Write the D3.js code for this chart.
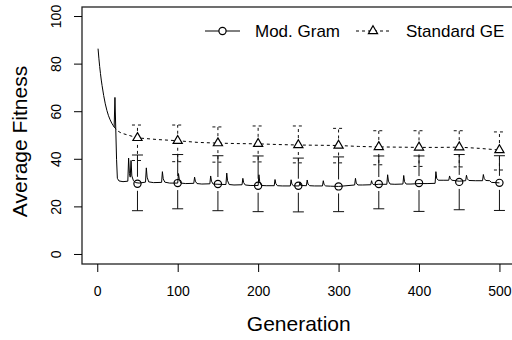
<!DOCTYPE html>
<html>
<head>
<meta charset="utf-8">
<script src="https://cdn.jsdelivr.net/npm/d3@7"></script>
<style>
  html, body { margin: 0; padding: 0; background: #fff; }
  svg { display: block; font-family: "Liberation Sans", Arial, Helvetica, sans-serif; }
</style>
</head>
<body>
<div id="chart"></div>
<script>
// values
const seriesNames = ["Mod. Gram", "Standard GE"];
const xTicks = [0, 100, 200, 300, 400, 500];
const yTicks = [0, 20, 40, 60, 80, 100];

// generations where markers + error bars sit
const markerGens = [50, 100, 150, 200, 250, 300, 350, 400, 450, 500];
const modGramMean = [29.7, 30.0, 29.6, 28.9, 28.9, 28.6, 29.6, 30.0, 30.5, 30.1];
const modGramUpper = [41.8, 42.0, 41.5, 41.4, 40.5, 41.0, 41.4, 41.4, 42.0, 41.5];
const modGramLower = [18.4, 19.2, 18.4, 18.0, 17.9, 18.0, 19.2, 18.1, 18.8, 18.5];
const standardMean = [49.0, 47.8, 46.8, 46.5, 46.0, 45.8, 45.2, 45.0, 45.1, 43.9];
const standardUpper = [54.4, 54.4, 53.6, 54.0, 54.0, 53.0, 52.0, 52.0, 52.0, 51.5];
const standardLower = [39.5, 39.0, 38.8, 38.9, 38.5, 38.5, 37.7, 37.0, 36.8, 35.5];

// per-generation traces (vertices of the drawn polylines)
const modGramTrace = [
  [1, 86.5], [2, 82.5], [3, 79], [4, 76], [5, 73.3], [6, 71], [8, 66.8], [10, 63.3],
  [12, 60.5], [14, 58.3], [16, 56.6], [18, 55.2], [20, 54.1], [21, 53.6],
  [22, 66], [24, 40], [25, 32], [27, 30.9], [32, 30.6], [38, 30.8],
  [39, 40.5], [40, 34], [41, 32.5], [42, 39.5], [43, 33], [45, 31], [48, 30.2], [52, 30], [60, 30.4],
  [61, 36.4], [62, 32.5], [64, 30.5], [70, 30.2], [80, 30.3],
  [81, 34.8], [82, 31.8], [84, 30.4], [90, 30], [100, 30],
  [101, 34], [102, 31.5], [104, 30], [110, 29.8], [120, 29.9],
  [121, 32.5], [122, 30.8], [124, 29.8], [130, 29.6], [140, 29.7],
  [141, 33], [142, 30.8], [144, 29.6], [150, 29.5], [160, 29.4],
  [161, 34.2], [162, 31], [164, 29.4], [170, 29.2], [180, 29.3],
  [181, 32], [182, 30.2], [184, 29.2], [190, 29], [200, 29],
  [201, 33.5], [202, 30.5], [204, 29], [210, 28.9], [220, 28.9],
  [221, 31.5], [222, 29.8], [224, 28.9], [230, 28.8], [240, 28.8],
  [241, 31.4], [242, 29.6], [244, 28.8], [251, 28.8], [252, 30.5], [253, 29], [260, 28.9],
  [261, 31.3], [262, 29.6], [264, 28.9], [270, 28.8], [280, 28.8],
  [281, 31], [282, 29.4], [284, 28.8], [290, 28.7], [300, 28.6], [320, 29.2],
  [321, 32], [322, 30], [324, 29.2], [330, 29.2], [340, 29.3],
  [341, 31], [342, 29.8], [344, 29.3], [350, 29.5], [360, 29.5],
  [361, 33.5], [362, 30.8], [364, 29.6], [370, 29.5], [380, 29.6],
  [381, 33.2], [382, 30.6], [384, 29.6], [390, 29.6], [400, 29.8], [410, 29.8], [420, 29.9],
  [421, 34.8], [422, 32], [424, 31.2], [430, 31.2], [437, 31.2],
  [438, 33], [439, 31.8], [441, 31.2], [450, 30.8], [458, 31],
  [459, 33.3], [460, 31.8], [462, 31.1], [470, 31], [479, 31],
  [480, 33.6], [481, 32], [483, 31.1], [488, 31], [490, 30.3], [500, 30.1]
];
const standardTrace = [
  [21, 53.6], [25, 52], [30, 51], [40, 50], [50, 49], [75, 48.3], [100, 47.8],
  [125, 47.1], [150, 46.8], [175, 46.6], [200, 46.5], [225, 46.2], [250, 46],
  [275, 45.9], [300, 45.8], [325, 45.4], [350, 45.2], [375, 45.1], [400, 45],
  [425, 45], [450, 45.1], [475, 44.6], [500, 43.9]
];

const W = 512, H = 340;
const box = { left: 82, right: 515.5, top: 7, bottom: 264 };

const svg = d3.select("#chart").append("svg")
  .attr("width", W).attr("height", H);

// R style: 4% padding around data range
const x = d3.scaleLinear().domain([1 - 19.96, 500 + 19.96]).range([box.left, box.right]);
const y = d3.scaleLinear().domain([-4, 104]).range([box.bottom, box.top]);

// frame
svg.append("rect")
  .attr("x", box.left).attr("y", box.top)
  .attr("width", box.right - box.left).attr("height", box.bottom - box.top)
  .attr("fill", "none").attr("stroke", "#222").attr("stroke-width", 1.3);

// axes
const xAxis = svg.append("g")
  .attr("transform", `translate(0,${box.bottom})`)
  .call(d3.axisBottom(x).tickValues(xTicks).tickSize(8).tickPadding(14));
xAxis.select(".domain").remove();
xAxis.selectAll("text").attr("font-size", 14).attr("fill", "#000")
  .attr("font-family", "Liberation Sans, Arial, sans-serif");

const yAxis = svg.append("g")
  .attr("transform", `translate(${box.left},0)`)
  .call(d3.axisLeft(y).tickValues(yTicks).tickSize(8));
yAxis.select(".domain").remove();
yAxis.selectAll("text")
  .attr("font-size", 14).attr("fill", "#000")
  .attr("font-family", "Liberation Sans, Arial, sans-serif")
  .attr("x", null).attr("dy", null)
  .attr("text-anchor", "middle")
  .attr("transform", d => `translate(-21,${y(d)}) rotate(-90)`)
  .attr("y", 0);
yAxis.selectAll(".tick").attr("transform", null);
yAxis.selectAll(".tick line").attr("y1", d => y(d)).attr("y2", d => y(d));

// axis titles
svg.append("text")
  .attr("x", (box.left + box.right) / 2).attr("y", 331)
  .attr("text-anchor", "middle").attr("font-size", 21)
  .text("Generation");
svg.append("text")
  .attr("transform", `translate(27,${(box.top + box.bottom) / 2 + 6}) rotate(-90)`)
  .attr("text-anchor", "middle").attr("font-size", 21)
  .text("Average Fitness");

// traces
const line = d3.line().x(d => x(d[0])).y(d => y(d[1]));
svg.append("path").datum(standardTrace)
  .attr("d", line).attr("fill", "none").attr("stroke", "#000")
  .attr("stroke-width", 1).attr("stroke-dasharray", "3,3");
svg.append("path").datum(modGramTrace)
  .attr("d", line).attr("fill", "none").attr("stroke", "#000")
  .attr("stroke-width", 1);

// error bars, with a gap round the point like plotCI
const gap = 7, cap = 5.5;
function errorBars(mean, upper, lower, dashed) {
  const g = svg.append("g").attr("stroke", "#111").attr("stroke-width", 1)
    .attr("stroke-dasharray", dashed ? "3,3" : null);
  markerGens.forEach((gen, i) => {
    const cx = x(gen), cy = y(mean[i]);
    const yu = y(upper[i]), yl = y(lower[i]);
    if (cy - gap > yu) g.append("line").attr("x1", cx).attr("x2", cx).attr("y1", cy - gap).attr("y2", yu);
    if (cy + gap < yl) g.append("line").attr("x1", cx).attr("x2", cx).attr("y1", cy + gap).attr("y2", yl);
    g.append("line").attr("x1", cx - cap).attr("x2", cx + cap).attr("y1", yu).attr("y2", yu);
    g.append("line").attr("x1", cx - cap).attr("x2", cx + cap).attr("y1", yl).attr("y2", yl);
  });
}
errorBars(standardMean, standardUpper, standardLower, true);
errorBars(modGramMean, modGramUpper, modGramLower, false);

// markers
function trianglePath(r) {
  const c0 = 1.555 * r, c1 = 1.347 * r, c2 = 0.778 * r;
  return `M0,${-c0}L${c1},${c2}L${-c1},${c2}Z`;
}
svg.append("g").selectAll("path")
  .data(markerGens.map((g, i) => [g, standardMean[i]]))
  .join("path")
  .attr("transform", d => `translate(${x(d[0])},${y(d[1])})`)
  .attr("d", trianglePath(3.4))
  .attr("fill", "#fff").attr("stroke", "#000").attr("stroke-width", 1.2);
svg.append("g").selectAll("circle")
  .data(markerGens.map((g, i) => [g, modGramMean[i]]))
  .join("circle")
  .attr("cx", d => x(d[0])).attr("cy", d => y(d[1])).attr("r", 3.6)
  .attr("fill", "none").attr("stroke", "#000").attr("stroke-width", 1.2);

// legend
const legend = svg.append("g").attr("font-size", 17);
const ly = 31;
legend.append("line").attr("x1", 205).attr("x2", 240).attr("y1", ly).attr("y2", ly)
  .attr("stroke", "#000").attr("stroke-width", 1);
legend.append("circle").attr("cx", 222.5).attr("cy", ly).attr("r", 3.6)
  .attr("fill", "#fff").attr("stroke", "#000").attr("stroke-width", 1.2);
legend.append("text").attr("x", 255).attr("y", ly + 6).text(seriesNames[0]);
legend.append("line").attr("x1", 356).attr("x2", 390).attr("y1", ly).attr("y2", ly)
  .attr("stroke", "#000").attr("stroke-width", 1).attr("stroke-dasharray", "3,3");
legend.append("path").attr("transform", `translate(373,${ly})`).attr("d", trianglePath(3.4))
  .attr("fill", "#fff").attr("stroke", "#000").attr("stroke-width", 1.2);
legend.append("text").attr("x", 406).attr("y", ly + 6).text(seriesNames[1]);
</script>
</body>
</html>
